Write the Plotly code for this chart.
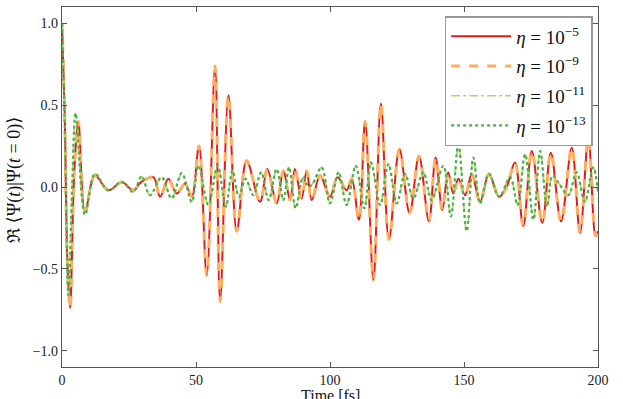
import plotly.graph_objects as go

t_loose = [0, 1.0, 2.0, 3.0, 4.6, 6.1, 8.6, 12.3, 17.3, 22.3, 26.6, 29.5, 34.1, 36.6, 39.7,
           42.8, 45.9, 48.4, 51.1, 54.0, 57.1, 59.0, 62.1, 65.2, 68.9, 73.9, 76.6, 80.1,
           82.6, 85.1, 86.9, 89.4, 91.3, 93.2, 96.3, 100.0, 102.8, 106.2, 108.1, 110.8,
           113.1, 116.2, 119.0, 122.0, 125.9, 129.7, 133.2, 136.9, 139.4, 141.9, 144.1,
           146.0, 147.9, 150.4, 152.9, 156.0, 159.3, 163.1, 165.9, 169.0, 172.1, 175.3,
           179.2, 182.4, 186.2, 190.2, 193.3, 196.4, 199.1, 200]
re_loose = [1.0, 0.45, -0.45, -0.74, 0.1, 0.40, -0.15, 0.07, -0.02, 0.03, -0.02, 0.03, 0.06,
            -0.06, 0.05, -0.04, 0.02, -0.06, 0.25, -0.54, 0.74, -0.70, 0.56, -0.27, 0.16,
            -0.09, 0.11, -0.10, 0.10, -0.08, 0.11, -0.07, 0.10, -0.08, 0.07, -0.06, 0.06,
            -0.02, 0.05, -0.20, 0.40, -0.57, 0.51, -0.32, 0.23, -0.16, 0.19, -0.21, 0.18,
            -0.14, 0.09, -0.04, 0.05, -0.05, 0.08, -0.09, 0.08, -0.06, 0.0, 0.15, -0.24,
            0.22, -0.22, 0.21, -0.21, 0.24, -0.28, 0.30, -0.30, -0.27]

t_tight = [0, 1.0, 2.4, 3.8, 5.1, 8.6, 12.3, 17.3, 22.3, 26.6, 29.7, 32.8, 37.2, 40.9,
           44.7, 48.4, 50.9, 54.6, 58.1, 61.1, 63.6, 66.0, 68.5, 71.4, 74.3, 77.1, 80.1,
           82.6, 84.7, 87.2, 90.0, 92.0, 93.5, 96.9, 100.0, 103.2, 106.2, 109.6, 112.8,
           115.3, 118.7, 121.8, 124.9, 128.0, 131.1, 134.8, 137.9, 142.3, 145.1, 147.9,
           151.0, 153.5, 156.0, 159.3, 163.1, 167.2, 170.0, 172.8, 175.9, 178.4, 181.0,
           183.0, 185.5, 188.9, 192.0, 195.1, 198.2, 200]
re_tight = [1.0, 0.40, -0.66, 0.0, 0.45, -0.17, 0.08, -0.02, 0.03, -0.03, 0.065, -0.05,
            0.06, -0.07, 0.085, -0.09, 0.13, -0.11, 0.13, -0.12, 0.10, -0.06, 0.05, -0.05,
            0.09, -0.08, 0.11, -0.08, 0.12, -0.13, 0.06, 0.0, 0.02, 0.12, -0.10, 0.09,
            -0.11, 0.13, -0.13, 0.15, -0.11, 0.14, -0.10, 0.08, -0.07, 0.09, -0.08, 0.13,
            -0.18, 0.26, -0.27, 0.18, -0.10, 0.08, -0.06, 0.06, -0.11, 0.20, -0.20, 0.22,
            -0.12, 0.07, 0.02, -0.05, 0.09, -0.09, 0.12, -0.03]

labels = ['10<sup>\u22125</sup>', '10<sup>\u22129</sup>',
          '10<sup>\u221211</sup>', '10<sup>\u221213</sup>']
colors = ['#e31a1c', '#fdae61', '#a6d96a', '#4daf4a']
dashes = ['solid', 'dash', 'dashdot', 'dot']
widths = [2.0, 3.0, 1.6, 2.2]
series = [(t_loose, re_loose), (t_loose, re_loose), (t_tight, re_tight), (t_tight, re_tight)]

SERIF = 'Liberation Serif, DejaVu Serif, serif'

fig = go.Figure()
for i, ((t, v), lab, col, dash, w) in enumerate(zip(series, labels, colors, dashes, widths)):
    fig.add_trace(go.Scatter(x=t, y=v, mode='lines', name='<i>\u03b7</i> = ' + lab,
                             legendgroup='g%d' % i,
                             line=dict(color=col, dash=dash, width=w,
                                       shape='spline', smoothing=1.0)))

axis_style = dict(showline=True, linecolor='#555', linewidth=1.2, mirror='ticks',
                  ticks='inside', ticklen=5, tickcolor='#555', showgrid=False,
                  zeroline=False, automargin=False,
                  tickfont=dict(family=SERIF, size=14, color='#222'))

fig.update_xaxes(range=[0, 200], tickvals=[0, 50, 100, 150, 200], **axis_style)
fig.update_yaxes(range=[-1.1, 1.1], tickvals=[-1.0, -0.5, 0.0, 0.5, 1.0],
                 tickformat='.1f', **axis_style)

# axis titles placed by hand to sit where the reference has them
fig.add_annotation(text='\u211c \u27e8\u03a8(<i>t</i>)|\u03a8(<i>t</i> = 0)\u27e9',
                   xref='paper', yref='paper', x=-0.088, y=0.52, textangle=-90,
                   xanchor='center', yanchor='middle', showarrow=False,
                   font=dict(family=SERIF, size=18, color='#111'))
fig.add_annotation(text='Time [fs]', xref='paper', yref='paper', x=0.5, y=-0.079,
                   xanchor='center', yanchor='middle', showarrow=False,
                   font=dict(family=SERIF, size=16, color='#111'))

fig.update_layout(width=623, height=399, plot_bgcolor='white', paper_bgcolor='white',
                  margin=dict(l=62, r=25, t=7, b=32),
                  legend=dict(x=0.99, y=0.975, xanchor='right', yanchor='top',
                              bgcolor='white', bordercolor='#999', borderwidth=1.5,
                              font=dict(family=SERIF, size=19, color='#111'),
                              itemwidth=60, tracegroupgap=2))
fig.write_html('out.html', config={'displayModeBar': False},
               post_script="document.body.style.margin='0';")
